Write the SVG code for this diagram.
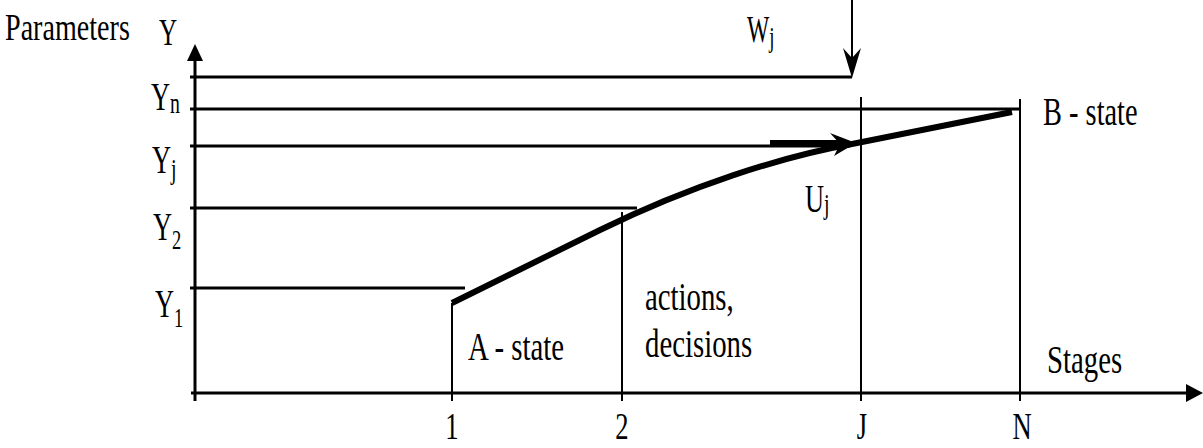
<svg xmlns="http://www.w3.org/2000/svg" width="1203" height="448" viewBox="0 0 1203 448">
<style>
text{font-family:"Liberation Serif","Times New Roman",serif;fill:#000;font-size:40px}
.s{font-size:30px}
.ax{stroke:#000;stroke-width:3;fill:none}
.ln{stroke:#000;stroke-width:3;fill:none}
.vl{stroke:#000;stroke-width:2;fill:none}
.thick{stroke:#000;stroke-width:6;fill:none}
</style>
<rect width="1203" height="448" fill="#fff"/>
<g id="axes">
<line class="ax" x1="195" y1="401" x2="195" y2="56"/>
<polygon points="195,44 187,61 203,61" fill="#000"/>
<line class="ax" x1="191" y1="393" x2="1190" y2="393"/>
<polygon points="1203,393 1186,384 1186,402" fill="#000"/>
<text transform="translate(5,40) scale(0.74,1)" style="font-size:38px">Parameters</text>
<text transform="translate(159,45) scale(0.66,1)" style="font-size:38px">Y</text>
<text transform="translate(1047,373) scale(0.72,1)">Stages</text>
</g>
<g id="levels">
<line class="ln" x1="190" y1="77" x2="852" y2="77"/>
<line class="ln" x1="190" y1="109" x2="1020" y2="109"/>
<line class="ln" x1="190" y1="146" x2="850" y2="146"/>
<line class="ln" x1="190" y1="208" x2="637" y2="208"/>
<line class="ln" x1="190" y1="288" x2="465" y2="288"/>
<text transform="translate(151,110) scale(0.66,1)">Y<tspan class="s" dy="3">n</tspan></text>
<text transform="translate(152,173) scale(0.66,1)">Y<tspan class="s" dy="6">j</tspan></text>
<text transform="translate(153,240) scale(0.66,1)">Y<tspan class="s" dy="9" style="font-size:28px">2</tspan></text>
<text transform="translate(155,317) scale(0.66,1)">Y<tspan class="s" dy="10" style="font-size:28px">1</tspan></text>
</g>
<g id="stages">
<line class="vl" x1="452" y1="303" x2="452" y2="401"/>
<line class="vl" x1="622" y1="212" x2="622" y2="401"/>
<line class="vl" x1="861" y1="97" x2="861" y2="401"/>
<line class="vl" x1="1020" y1="99" x2="1020" y2="401"/>
<text transform="translate(452,439) scale(0.72,1)" text-anchor="middle" style="font-size:37px">1</text>
<text transform="translate(622,439) scale(0.72,1)" text-anchor="middle" style="font-size:37px">2</text>
<text transform="translate(862,439) scale(0.72,1)" text-anchor="middle" style="font-size:37px">J</text>
<text transform="translate(1022,439) scale(0.72,1)" text-anchor="middle" style="font-size:37px">N</text>
</g>
<g id="trajectory">
<path class="thick" d="M452,303 L600,230 C690,186 780,157 852,144 L1012,112"/>
<text transform="translate(468,360) scale(0.72,1)">A - state</text>
<text transform="translate(1043,125) scale(0.71,1)">B - state</text>
<text transform="translate(645,310) scale(0.72,1)">actions,</text>
<text transform="translate(645,357) scale(0.72,1)">decisions</text>
</g>
<g id="connectors">
<line class="vl" x1="852" y1="0" x2="852" y2="60"/>
<polygon points="843,48 852,58 861,48 852,78" fill="#000"/>
<line class="thick" x1="770" y1="143" x2="840" y2="143"/>
<polygon points="830,133 856,143 834,156 840,144" fill="#000"/>
</g>
<g id="labels">
<text transform="translate(747,42) scale(0.62,1)" style="font-size:38px">W<tspan class="s" dy="5">j</tspan></text>
<text transform="translate(805,212) scale(0.66,1)">U<tspan class="s" dy="2">j</tspan></text>
</g>
</svg>
